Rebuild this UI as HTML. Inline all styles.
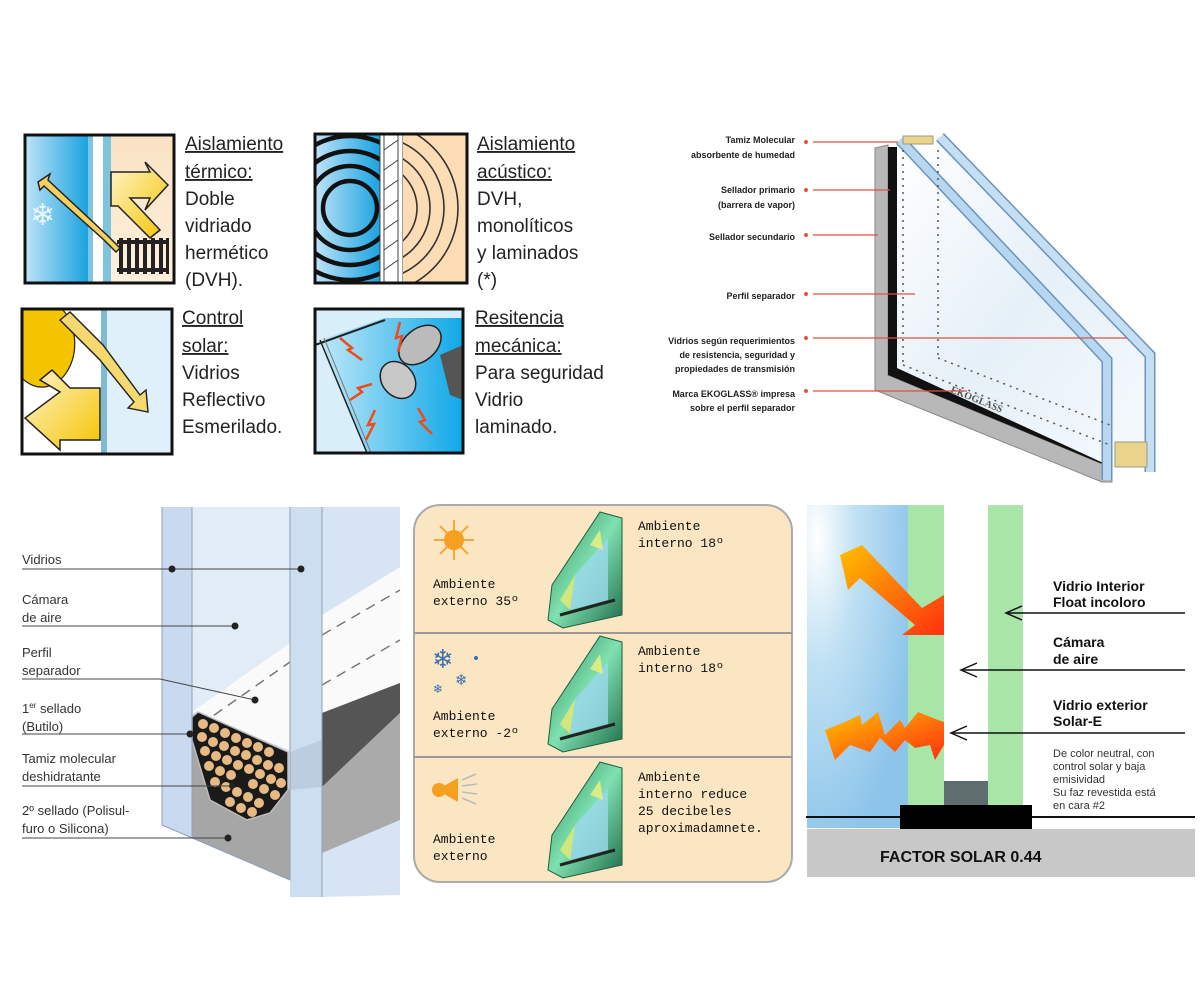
<!DOCTYPE html>
<html><head><meta charset="utf-8">
<style>
html,body{margin:0;padding:0;background:#fff;}
svg{display:block;}
.h{font-family:"Liberation Sans Narrow","Liberation Sans",sans-serif;font-size:19px;fill:#222;}
.s{font-family:"Liberation Sans",sans-serif;font-size:9px;font-weight:bold;fill:#222;}
.b{font-family:"Liberation Sans Narrow","Liberation Sans",sans-serif;font-size:13px;fill:#333;}
.m{font-family:"Liberation Mono",monospace;font-size:13px;fill:#111;}
.r{font-family:"Liberation Sans",sans-serif;font-size:14px;font-weight:bold;fill:#111;}
.t{font-family:"Liberation Sans",sans-serif;font-size:11px;fill:#333;}
</style></head><body>
<svg width="1200" height="1000" viewBox="0 0 1200 1000" xmlns="http://www.w3.org/2000/svg">
<defs>
<linearGradient id="blu" x1="0" x2="1"><stop offset="0" stop-color="#bfe3f7"/><stop offset="1" stop-color="#1aa3e0"/></linearGradient>
<linearGradient id="beige" x1="0" y1="0" x2="0" y2="1"><stop offset="0" stop-color="#fbe1c3"/><stop offset="1" stop-color="#fdf0dd"/></linearGradient>
<linearGradient id="yel" x1="0" y1="0" x2="1" y2="1"><stop offset="0" stop-color="#fff4cc"/><stop offset="1" stop-color="#f5c400"/></linearGradient>
<linearGradient id="ham" x1="0" x2="1"><stop offset="0" stop-color="#bfe8f8"/><stop offset="1" stop-color="#0fa8e8"/></linearGradient>
<radialGradient id="sky" cx="0.1" cy="0.1" r="1"><stop offset="0" stop-color="#ffffff"/><stop offset="0.4" stop-color="#bfe0f3"/><stop offset="1" stop-color="#8cc4ea"/></radialGradient>
<linearGradient id="arr" x1="0" y1="0" x2="1" y2="1"><stop offset="0" stop-color="#ffc000"/><stop offset="1" stop-color="#ff3010"/></linearGradient>
<linearGradient id="gl" x1="0" y1="0" x2="1" y2="1"><stop offset="0" stop-color="#ffffff"/><stop offset="0.5" stop-color="#e6f0f8"/><stop offset="1" stop-color="#f6fafd"/></linearGradient>
<linearGradient id="grn" x1="0" y1="0" x2="1" y2="1"><stop offset="0" stop-color="#2c8a5a"/><stop offset="0.5" stop-color="#7fe0b0"/><stop offset="1" stop-color="#1e6b48"/></linearGradient>
</defs>

<!-- ===== Top-left icons ===== -->
<!-- Box1 -->
<rect x="25" y="135" width="63" height="148" fill="url(#blu)"/>
<rect x="88" y="135" width="5" height="148" fill="#7fc4dd"/>
<rect x="93" y="135" width="10" height="148" fill="#fff"/>
<rect x="103" y="135" width="8" height="148" fill="#7fc4dd"/>
<rect x="111" y="135" width="63" height="148" fill="url(#beige)"/>
<polygon points="38,182 50,174 48,180 108,236 120,248 116,252 104,240 44,186 40,190" fill="#f4d060" stroke="#222" stroke-width="1.5"/>
<polygon points="111,172 150,172 145,162 168,185 145,210 150,198 130,198 160,230 150,238 118,206 111,206" fill="url(#yel)" stroke="#222" stroke-width="1.5"/>
<g fill="#222"><rect x="117" y="240" width="52" height="4"/><rect x="117" y="268" width="52" height="4"/>
<rect x="119" y="238" width="4" height="36"/><rect x="127" y="238" width="4" height="36"/><rect x="135" y="238" width="4" height="36"/><rect x="143" y="238" width="4" height="36"/><rect x="151" y="238" width="4" height="36"/><rect x="159" y="238" width="4" height="36"/><rect x="166" y="238" width="3" height="36"/></g>
<text x="30" y="225" font-size="30" fill="#e9f6fc" font-family="DejaVu Sans">❄</text>
<rect x="25" y="135" width="149" height="148" fill="none" stroke="#111" stroke-width="3"/>
<text class="h" x="185" y="150" text-decoration="underline">Aislamiento</text>
<text class="h" x="185" y="178" text-decoration="underline">térmico:</text>
<text class="h" x="185" y="205">Doble</text>
<text class="h" x="185" y="232">vidriado</text>
<text class="h" x="185" y="259">hermético</text>
<text class="h" x="185" y="286">(DVH).</text>

<!-- Box2 -->
<clipPath id="c2"><rect x="315" y="134" width="65" height="149"/></clipPath>
<clipPath id="c2r"><rect x="403" y="134" width="64" height="149"/></clipPath>
<rect x="315" y="134" width="65" height="149" fill="url(#blu)"/>
<g clip-path="url(#c2)" fill="none" stroke="#111" stroke-width="4.5"><circle cx="350" cy="208" r="27"/><circle cx="350" cy="208" r="42"/><circle cx="350" cy="208" r="57"/><circle cx="350" cy="208" r="72"/><circle cx="350" cy="208" r="87"/></g>
<rect x="380" y="134" width="23" height="149" fill="#fff"/>
<g stroke="#444" stroke-width="1"><line x1="380" y1="134" x2="380" y2="283"/><line x1="384" y1="134" x2="384" y2="283"/><line x1="398" y1="134" x2="398" y2="283"/><line x1="403" y1="134" x2="403" y2="283"/>
<line x1="384" y1="150" x2="398" y2="140"/><line x1="384" y1="170" x2="398" y2="160"/><line x1="384" y1="190" x2="398" y2="180"/><line x1="384" y1="210" x2="398" y2="200"/><line x1="384" y1="230" x2="398" y2="220"/><line x1="384" y1="250" x2="398" y2="240"/><line x1="384" y1="270" x2="398" y2="260"/></g>
<rect x="403" y="134" width="64" height="149" fill="#fbdcb4"/>
<g clip-path="url(#c2r)" fill="none" stroke="#333" stroke-width="1.6"><circle cx="372" cy="208" r="45"/><circle cx="372" cy="208" r="58"/><circle cx="372" cy="208" r="72"/><circle cx="372" cy="208" r="86"/></g>
<rect x="315" y="134" width="152" height="149" fill="none" stroke="#111" stroke-width="3"/>
<text class="h" x="477" y="150" text-decoration="underline">Aislamiento</text>
<text class="h" x="477" y="178" text-decoration="underline">acústico:</text>
<text class="h" x="477" y="205">DVH,</text>
<text class="h" x="477" y="232">monolíticos</text>
<text class="h" x="477" y="259">y laminados</text>
<text class="h" x="477" y="286">(*)</text>

<!-- Box3 -->
<rect x="22" y="309" width="79" height="145" fill="#fff"/>
<rect x="101" y="309" width="6" height="145" fill="#7fbad0"/>
<rect x="107" y="309" width="65" height="145" fill="#dff0fb"/>
<path d="M22,309 L62,309 A30,40 0 0 1 22,378 Z" fill="#f5c400" stroke="#222" stroke-width="1.2"/>
<polygon points="40,380 52,370 70,388 100,388 100,440 60,440 60,450 25,418 60,392" fill="url(#yel)" stroke="#222" stroke-width="1.5"/>
<polygon points="60,320 70,312 103,345 140,395 146,390 148,412 128,408 134,402 100,360" fill="#f5d870" stroke="#222" stroke-width="1.4"/>
<rect x="22" y="309" width="150" height="145" fill="none" stroke="#111" stroke-width="3"/>
<text class="h" x="182" y="324" text-decoration="underline">Control</text>
<text class="h" x="182" y="352" text-decoration="underline">solar:</text>
<text class="h" x="182" y="379">Vidrios</text>
<text class="h" x="182" y="406">Reflectivo</text>
<text class="h" x="182" y="433">Esmerilado.</text>

<!-- Box4 -->
<rect x="315" y="309" width="148" height="144" fill="#d8eef9"/>
<polygon points="320,340 385,318 463,318 463,453 367,453" fill="url(#ham)"/>
<polyline points="315,345 385,320" stroke="#222" stroke-width="2" fill="none"/>
<polyline points="320,340 367,453" stroke="#222" stroke-width="1.5" fill="none"/>
<polyline points="324,338 371,453" stroke="#777" stroke-width="1" fill="none"/>
<polygon points="440,355 463,345 463,400 450,395" fill="#555"/>
<ellipse cx="420" cy="345" rx="24" ry="16" fill="#bbb" stroke="#222" stroke-width="1.5" transform="rotate(-40 420 345)"/>
<ellipse cx="398" cy="380" rx="16" ry="20" fill="#c8c8c8" stroke="#222" stroke-width="1.5" transform="rotate(-40 398 380)"/>
<g stroke="#f04a1a" stroke-width="2.5" fill="none"><polyline points="340,338 352,348 348,350 362,360"/><polyline points="400,322 396,338 402,336 398,352"/><polyline points="350,400 362,392 358,388 372,384"/><polyline points="375,410 368,425 374,424 366,440"/><polyline points="418,408 425,420 420,422 432,434"/></g>
<rect x="315" y="309" width="148" height="144" fill="none" stroke="#111" stroke-width="3"/>
<text class="h" x="475" y="324" text-decoration="underline">Resitencia</text>
<text class="h" x="475" y="352" text-decoration="underline">mecánica:</text>
<text class="h" x="475" y="379">Para seguridad</text>
<text class="h" x="475" y="406">Vidrio</text>
<text class="h" x="475" y="433">laminado.</text>

<!-- ===== Top-right glass section ===== -->
<polygon points="875,148 888,145 888,375 1112,468 1112,482 1102,482 875,390" fill="#b8b8b8" stroke="#888"/>
<polygon points="888,147 897,147 897,368 1112,455 1112,468 888,375" fill="#111"/>
<polygon points="897,145 943,137 1153,355 1153,467 1112,467 897,368" fill="url(#gl)"/>
<polyline points="900,140 1107,360 1107,480" fill="none" stroke="#6a93be" stroke-width="11"/>
<polyline points="900,140 1107,360 1107,480" fill="none" stroke="#b8d6ef" stroke-width="8"/>
<polyline points="940,137 1150,355 1150,472" fill="none" stroke="#6a93be" stroke-width="11"/>
<polyline points="940,137 1150,355 1150,472" fill="none" stroke="#c6def2" stroke-width="8"/>
<rect x="903" y="136" width="30" height="8" fill="#e8d48a" stroke="#998"/>
<rect x="1115" y="442" width="32" height="25" fill="#e8d48a" stroke="#998"/>
<g stroke="#555" stroke-width="1.5" stroke-dasharray="2,5" fill="none"><line x1="903" y1="150" x2="903" y2="363"/><line x1="938" y1="150" x2="938" y2="355"/><line x1="903" y1="365" x2="1110" y2="445"/><line x1="938" y1="358" x2="1110" y2="425"/></g>
<text x="950" y="392" font-family="Liberation Serif,serif" font-size="10" font-weight="bold" fill="#555" transform="rotate(22 950 392)">EKOGLASS</text>
<g class="s" text-anchor="end">
<text x="795" y="143">Tamiz Molecular</text><text x="795" y="158">absorbente de humedad</text>
<text x="795" y="193">Sellador primario</text><text x="795" y="208">(barrera de vapor)</text>
<text x="795" y="240">Sellador secundario</text>
<text x="795" y="299">Perfil separador</text>
<text x="795" y="344">Vidrios según requerimientos</text><text x="795" y="358">de resistencia, seguridad y</text><text x="795" y="372">propiedades de transmisión</text>
<text x="795" y="397">Marca EKOGLASS® impresa</text><text x="795" y="411">sobre el perfil separador</text>
</g>
<g stroke="#e05040" stroke-width="1.3" fill="#e05040">
<circle cx="806" cy="142" r="1.3"/><line x1="813" y1="142" x2="898" y2="142"/>
<circle cx="806" cy="190" r="1.3"/><line x1="813" y1="190" x2="890" y2="190"/>
<circle cx="806" cy="235" r="1.3"/><line x1="813" y1="235" x2="878" y2="235"/>
<circle cx="806" cy="294" r="1.3"/><line x1="813" y1="294" x2="915" y2="294"/>
<circle cx="806" cy="338" r="1.3"/><line x1="813" y1="338" x2="1127" y2="338"/>
<circle cx="806" cy="391" r="1.3"/><line x1="813" y1="391" x2="967" y2="391"/>
</g>

<!-- ===== Bottom-left section ===== -->
<polygon points="162,507 192,507 192,838 162,825" fill="#c9daf0"/>
<polygon points="192,507 290,507 290,880 192,838" fill="#e2ecf7"/>
<polygon points="322,507 400,507 400,895 322,897" fill="#d6e4f4"/>
<polygon points="192,712 290,643 290,750" fill="#fafafa"/>
<polygon points="322,615 400,567 400,683 322,713" fill="#fafafa"/>
<polygon points="322,713 400,683 400,713 322,787" fill="#555"/>
<polygon points="290,752 322,740 322,787 290,790" fill="#555"/>
<polygon points="322,787 400,713 400,820 322,853" fill="#aaa"/>
<polygon points="192,740 192,838 290,880 290,790" fill="#a6a6a6"/>
<g stroke="#777" stroke-width="1.5" stroke-dasharray="10,7"><line x1="200" y1="725" x2="290" y2="662"/><line x1="322" y1="635" x2="400" y2="590"/><line x1="322" y1="685" x2="400" y2="640"/></g>
<polygon points="192,717 198,712 288,752 288,790 270,813 247,820 210,800 192,740" fill="#1a1a1a" stroke="#bbb" stroke-width="1.5"/>
<g fill="#e7b983">
<circle cx="203" cy="724" r="5"/><circle cx="214" cy="728" r="5"/><circle cx="225" cy="733" r="5"/><circle cx="236" cy="738" r="5"/><circle cx="247" cy="743" r="5"/><circle cx="258" cy="747" r="5"/><circle cx="269" cy="752" r="5"/>
<circle cx="202" cy="737" r="5"/><circle cx="213" cy="742" r="5"/><circle cx="224" cy="746" r="5"/><circle cx="235" cy="751" r="5"/><circle cx="246" cy="755" r="5"/><circle cx="257" cy="760" r="5"/><circle cx="268" cy="765" r="5"/><circle cx="279" cy="768" r="5"/>
<circle cx="205" cy="751" r="5"/><circle cx="216" cy="756" r="5"/><circle cx="227" cy="760" r="5"/><circle cx="238" cy="765" r="5"/><circle cx="249" cy="769" r="5"/><circle cx="260" cy="774" r="5"/><circle cx="271" cy="779" r="5"/><circle cx="281" cy="783" r="5"/>
<circle cx="209" cy="766" r="5"/><circle cx="220" cy="771" r="5"/><circle cx="231" cy="775" r="5"/><circle cx="253" cy="784" r="5"/><circle cx="264" cy="789" r="5"/><circle cx="275" cy="795" r="5"/>
<circle cx="215" cy="782" r="5"/><circle cx="226" cy="787" r="5"/><circle cx="237" cy="792" r="5"/><circle cx="248" cy="797" r="5"/><circle cx="259" cy="803" r="5"/>
<circle cx="230" cy="802" r="5"/><circle cx="241" cy="808" r="5"/><circle cx="252" cy="812" r="5"/>
</g>
<rect x="290" y="507" width="32" height="390" fill="#c9daf0" opacity="0.9"/>
<g stroke="#8ea0b8" stroke-width="1" fill="none"><line x1="162" y1="507" x2="162" y2="825"/><line x1="192" y1="507" x2="192" y2="838"/><line x1="290" y1="507" x2="290" y2="880"/><line x1="322" y1="507" x2="322" y2="897"/><line x1="162" y1="825" x2="290" y2="880"/></g>
<g class="b">
<text x="22" y="564">Vidrios</text>
<text x="22" y="604">Cámara</text><text x="22" y="622">de aire</text>
<text x="22" y="657">Perfil</text><text x="22" y="675">separador</text>
<text x="22" y="713">1<tspan font-size="8" dy="-5">er</tspan><tspan dy="5"> sellado</tspan></text><text x="22" y="731">(Butilo)</text>
<text x="22" y="763">Tamiz molecular</text><text x="22" y="781">deshidratante</text>
<text x="22" y="815">2º sellado (Polisul-</text><text x="22" y="833">furo o Silicona)</text>
</g>
<g stroke="#444" stroke-width="1" fill="none">
<line x1="22" y1="569" x2="300" y2="569"/>
<line x1="22" y1="626" x2="235" y2="626"/>
<polyline points="22,679 160,679 255,700"/>
<line x1="22" y1="734" x2="190" y2="734"/>
<line x1="22" y1="786" x2="232" y2="786"/>
<line x1="22" y1="838" x2="228" y2="838"/>
</g>
<g fill="#222"><circle cx="172" cy="569" r="3.5"/><circle cx="301" cy="569" r="3.5"/><circle cx="235" cy="626" r="3.5"/><circle cx="255" cy="700" r="3.5"/><circle cx="190" cy="734" r="3.5"/><circle cx="232" cy="786" r="3"/><circle cx="228" cy="838" r="3.5"/></g>

<!-- ===== Middle panel ===== -->
<rect x="414" y="505" width="378" height="377" rx="26" fill="#fbe6c4" stroke="#aaa" stroke-width="2"/>
<line x1="414" y1="633" x2="792" y2="633" stroke="#999" stroke-width="2"/>
<line x1="414" y1="757" x2="792" y2="757" stroke="#999" stroke-width="2"/>
<!-- sun -->
<g stroke="#f7a830" stroke-width="2"><line x1="454" y1="520" x2="454" y2="560"/><line x1="434" y1="540" x2="474" y2="540"/><line x1="440" y1="526" x2="468" y2="554"/><line x1="468" y1="526" x2="440" y2="554"/></g>
<circle cx="454" cy="540" r="10" fill="#f7a020"/>
<!-- snow -->
<text x="432" y="668" font-size="26" fill="#3b6fb0" font-family="DejaVu Sans">❄</text>
<text x="455" y="685" font-size="15" fill="#3b6fb0" font-family="DejaVu Sans">❄</text>
<text x="433" y="693" font-size="12" fill="#3b6fb0" font-family="DejaVu Sans">❄</text>
<circle cx="476" cy="658" r="2" fill="#3b6fb0"/>
<!-- speaker -->
<circle cx="439" cy="790" r="7" fill="#f7a020"/><polygon points="444,786 458,778 458,802 444,794" fill="#f7a020"/>
<g stroke="#bbb" stroke-width="1.5"><line x1="462" y1="780" x2="476" y2="774"/><line x1="462" y1="786" x2="477" y2="784"/><line x1="462" y1="792" x2="477" y2="794"/><line x1="462" y1="798" x2="476" y2="804"/></g>
<!-- glass units -->
<g id="gu">
<polygon points="600,512 622,518 622,615 563,628 548,620 552,585" fill="url(#grn)" stroke="#1b5e40"/>
<polygon points="575,575 608,538 608,600 570,610" fill="#9bd8ee" opacity="0.8"/>
<polygon points="560,600 575,575 570,610" fill="#e8e870" opacity="0.8"/>
<polygon points="590,545 600,530 603,550" fill="#f2f07a" opacity="0.8"/>
<line x1="560" y1="615" x2="615" y2="600" stroke="#222" stroke-width="3"/>
</g>
<use href="#gu" transform="translate(0,124)"/>
<use href="#gu" transform="translate(0,250)"/>
<g class="m">
<text x="638" y="530">Ambiente</text><text x="638" y="547">interno 18º</text>
<text x="433" y="588">Ambiente</text><text x="433" y="605">externo 35º</text>
<text x="638" y="655">Ambiente</text><text x="638" y="672">interno 18º</text>
<text x="433" y="720">Ambiente</text><text x="433" y="737">externo -2º</text>
<text x="638" y="781">Ambiente</text><text x="638" y="798">interno reduce</text><text x="638" y="815">25 decibeles</text><text x="638" y="832">aproximadamnete.</text>
<text x="433" y="843">Ambiente</text><text x="433" y="860">externo</text>
</g>

<!-- ===== Bottom-right solar ===== -->
<rect x="807" y="505" width="101" height="323" fill="url(#sky)"/>
<rect x="908" y="505" width="36" height="300" fill="#a8e6a8"/>
<rect x="988" y="505" width="35" height="300" fill="#a8e6a8"/>
<rect x="944" y="781" width="44" height="24" fill="#5e6e6e"/>
<rect x="807" y="829" width="388" height="48" fill="#c8c8c8"/>
<line x1="806" y1="817" x2="1195" y2="817" stroke="#111" stroke-width="2"/>
<rect x="900" y="805" width="132" height="24" fill="#000"/>
<polygon points="840,555 862,545 922,608 944,595 944,635 902,635 915,625 860,578 848,590" fill="url(#arr)"/>
<polygon points="825,730 845,722 860,715 862,725 878,712 885,735 900,720 905,728 918,712 938,720 944,722 944,745 935,760 930,745 915,748 905,740 895,752 880,738 870,752 850,745 835,760 830,745" fill="url(#arr)"/>
<text class="r" x="1053" y="591">Vidrio Interior</text>
<text class="r" x="1053" y="607">Float incoloro</text>
<text class="r" x="1053" y="647">Cámara</text>
<text class="r" x="1053" y="664">de aire</text>
<text class="r" x="1053" y="710">Vidrio exterior</text>
<text class="r" x="1053" y="726">Solar-E</text>
<g stroke="#111" stroke-width="1.5" fill="none">
<line x1="1185" y1="613" x2="1008" y2="613"/><polyline points="1022,606 1006,613 1022,620"/>
<line x1="1185" y1="670" x2="963" y2="670"/><polyline points="977,663 961,670 977,677"/>
<line x1="1185" y1="733" x2="953" y2="733"/><polyline points="967,726 951,733 967,740"/>
</g>
<g class="t">
<text x="1053" y="757">De color neutral, con</text>
<text x="1053" y="770">control solar y baja</text>
<text x="1053" y="783">emisividad</text>
<text x="1053" y="796">Su faz revestida está</text>
<text x="1053" y="809">en cara #2</text>
</g>
<text x="880" y="862" font-family="Liberation Sans,sans-serif" font-size="16" font-weight="bold" fill="#111">FACTOR SOLAR 0.44</text>
</svg>
</body></html>
